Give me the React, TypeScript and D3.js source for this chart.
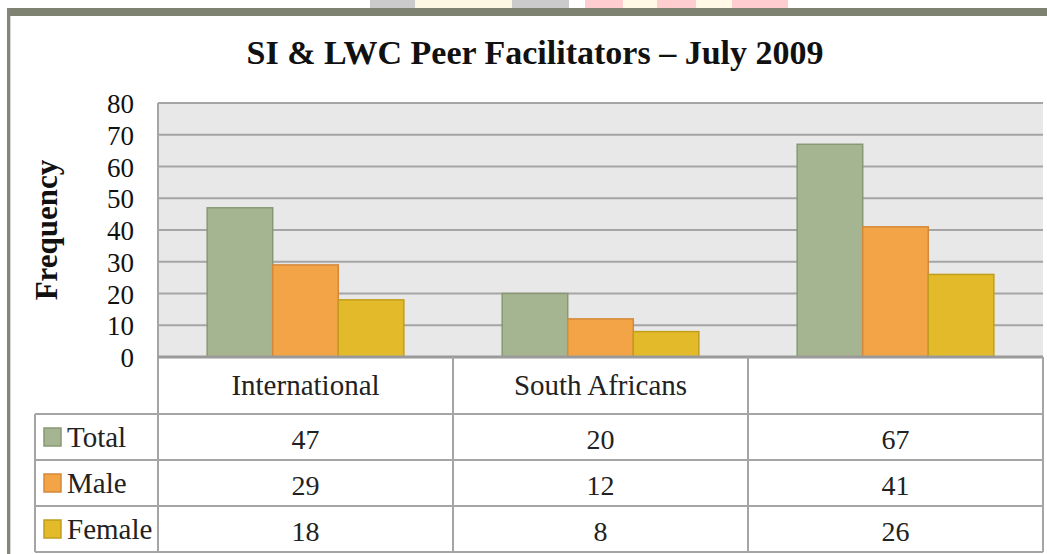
import { useEffect } from 'react';
import { scaleBand, scaleLinear } from 'd3';

// chart data
const categories = ['International', 'South Africans', ''];
const seriesNames = ['Total', 'Male', 'Female'];
const totalValues = [47, 20, 67];
const maleValues = [29, 12, 41];
const femaleValues = [18, 8, 26];
const yTicks = [0, 10, 20, 30, 40, 50, 60, 70, 80];

const seriesValues = [totalValues, maleValues, femaleValues];
const fills = ['#a6b591', '#f3a447', '#e3bb2a'];
const strokes = ['#879873', '#d4893a', '#c09e1c'];

const FONT = '"Liberation Serif", "Times New Roman", serif';

const App = () => {
  useEffect(() => {
    document.body.style.margin = '0';
  }, []);

  const width = 1047;
  const height = 554;
  const plotLeft = 158;
  const plotRight = 1043;
  const plotTop = 103;
  const plotBottom = 357;
  const headerBottom = 414;
  const rowH = 46;
  const legendLeft = 35;

  const x = scaleBand<string>().domain(categories).range([plotLeft, plotRight]);
  const xs = scaleBand<string>()
    .domain(seriesNames)
    .range([0, x.bandwidth()])
    .paddingInner(0)
    .paddingOuter(0.75);
  const y = scaleLinear().domain([0, 80]).range([plotBottom, plotTop]);

  const tableBottom = headerBottom + rowH * seriesNames.length;
  const gridColor = '#a5a5a5';

  return (
    <svg width={width} height={height} style={{ display: 'block', background: '#fff' }}>
      {/* faded header strip above the frame */}
      <rect x={370} y={0} width={45} height={8} fill="#cbcbcb" />
      <rect x={415} y={0} width={97} height={8} fill="#fdf8e4" />
      <rect x={512} y={0} width={57} height={8} fill="#cbcbcb" />
      <rect x={585} y={0} width={38} height={8} fill="#fecdcf" />
      <rect x={623} y={0} width={34} height={8} fill="#fff9e6" />
      <rect x={657} y={0} width={39} height={8} fill="#fecdcf" />
      <rect x={696} y={0} width={36} height={8} fill="#fff9e6" />
      <rect x={732} y={0} width={56} height={8} fill="#fecdcf" />

      {/* frame */}
      <rect x={7} y={8} width={width - 7} height={8} fill="#7e8270" />
      <rect x={7} y={8} width={3} height={height - 8} fill="#84867c" />
      <rect x={10} y={16} width={1} height={height - 16} fill="#d5d5d5" />

      <text x={535} y={64} textAnchor="middle" fontFamily={FONT} fontWeight="bold" fontSize={34} fill="#111">
        SI &amp; LWC Peer Facilitators – July 2009
      </text>

      <text
        transform={`translate(57, 230) rotate(-90)`}
        textAnchor="middle"
        fontFamily={FONT}
        fontWeight="bold"
        fontSize={31}
        fill="#111"
      >
        Frequency
      </text>

      {/* plot area */}
      <rect x={plotLeft} y={plotTop} width={plotRight - plotLeft} height={plotBottom - plotTop} fill="#e8e8e8" />
      {yTicks.map((t) => (
        <g key={t}>
          {t > 0 && (
            <line x1={plotLeft} x2={plotRight} y1={y(t)} y2={y(t)} stroke={gridColor} strokeWidth={2} />
          )}
          <text x={134} y={y(t) + 10} textAnchor="end" fontFamily={FONT} fontSize={27} fill="#111">
            {t}
          </text>
        </g>
      ))}

      {categories.map((c, ci) =>
        seriesNames.map((s, si) => {
          const v = seriesValues[si][ci];
          return (
            <rect
              key={c + s}
              x={(x(c) ?? 0) + (xs(s) ?? 0)}
              y={y(v)}
              width={xs.bandwidth()}
              height={plotBottom - y(v)}
              fill={fills[si]}
              stroke={strokes[si]}
              strokeWidth={1.5}
            />
          );
        })
      )}

      <line x1={plotLeft} x2={plotLeft} y1={plotTop} y2={tableBottom} stroke={gridColor} strokeWidth={2} />
      <line x1={plotLeft} x2={plotRight} y1={plotBottom} y2={plotBottom} stroke="#9a9a9a" strokeWidth={3} />

      {/* data table */}
      {categories.map((c) => (
        <g key={'col' + c}>
          <line
            x1={(x(c) ?? 0) + x.bandwidth()}
            x2={(x(c) ?? 0) + x.bandwidth()}
            y1={plotBottom}
            y2={tableBottom}
            stroke={gridColor}
            strokeWidth={2}
          />
          <text
            x={(x(c) ?? 0) + x.bandwidth() / 2}
            y={395}
            textAnchor="middle"
            fontFamily={FONT}
            fontSize={29}
            fill="#222"
          >
            {c}
          </text>
        </g>
      ))}
      {[0, 1, 2, 3].map((r) => (
        <line
          key={'row' + r}
          x1={legendLeft}
          x2={plotRight}
          y1={headerBottom + r * rowH}
          y2={headerBottom + r * rowH}
          stroke={gridColor}
          strokeWidth={2}
        />
      ))}
      <line x1={legendLeft} x2={legendLeft} y1={headerBottom} y2={tableBottom} stroke={gridColor} strokeWidth={2} />

      {seriesNames.map((s, si) => {
        const top = headerBottom + si * rowH;
        return (
          <g key={'leg' + s}>
            <rect x={44} y={top + 14} width={17} height={18} fill={fills[si]} stroke={strokes[si]} strokeWidth={1.5} />
            <text x={67} y={top + 33} fontFamily={FONT} fontSize={29} fill="#222">
              {s}
            </text>
            {categories.map((c, ci) => (
              <text
                key={c}
                x={(x(c) ?? 0) + x.bandwidth() / 2}
                y={top + 35}
                textAnchor="middle"
                fontFamily={FONT}
                fontSize={28}
                fill="#222"
              >
                {seriesValues[si][ci]}
              </text>
            ))}
          </g>
        );
      })}
    </svg>
  );
};

export default App;
